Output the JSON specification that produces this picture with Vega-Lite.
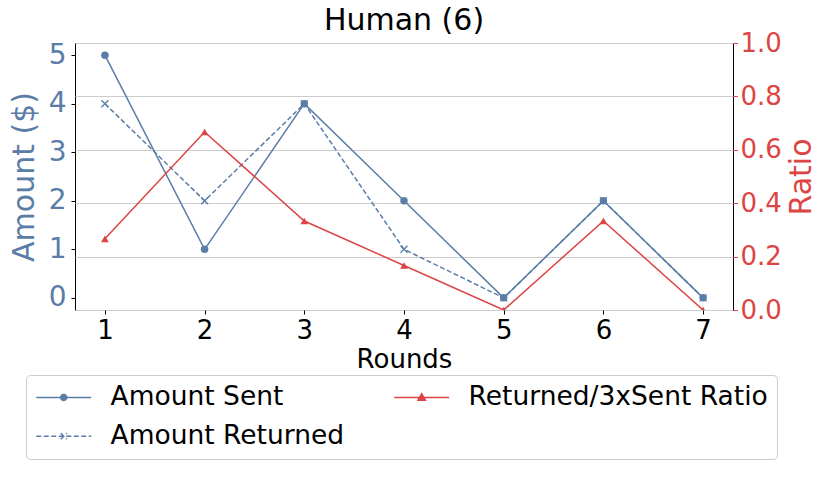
{
  "$schema": "https://vega.github.io/schema/vega-lite/v6.json",
  "width": 658,
  "height": 267,
  "autosize": {"type": "none"},
  "padding": {"left": 75, "top": 43, "right": 97, "bottom": 188},
  "background": "white",
  "title": {"text": "Human (6)", "font": "DejaVu Sans", "fontSize": 30, "fontWeight": "normal", "color": "black", "offset": -6},
  "config": {
    "view": {"stroke": "black", "strokeWidth": 1},
    "font": "DejaVu Sans",
    "axis": {"domain": false, "grid": false, "labelFont": "DejaVu Sans", "titleFont": "DejaVu Sans", "titleFontWeight": "normal", "tickColor": "black", "tickWidth": 1}
  },
  "data": {
    "values": [
      {"round": 1, "series": "Amount Sent", "value": 5},
      {"round": 2, "series": "Amount Sent", "value": 1},
      {"round": 3, "series": "Amount Sent", "value": 4},
      {"round": 4, "series": "Amount Sent", "value": 2},
      {"round": 5, "series": "Amount Sent", "value": 0},
      {"round": 6, "series": "Amount Sent", "value": 2},
      {"round": 7, "series": "Amount Sent", "value": 0},
      {"round": 1, "series": "Amount Returned", "value": 4},
      {"round": 2, "series": "Amount Returned", "value": 2},
      {"round": 3, "series": "Amount Returned", "value": 4},
      {"round": 4, "series": "Amount Returned", "value": 1},
      {"round": 5, "series": "Amount Returned", "value": 0},
      {"round": 6, "series": "Amount Returned", "value": 2},
      {"round": 7, "series": "Amount Returned", "value": 0},
      {"round": 1, "series": "Returned/3xSent Ratio", "value": 0.2667},
      {"round": 2, "series": "Returned/3xSent Ratio", "value": 0.6667},
      {"round": 3, "series": "Returned/3xSent Ratio", "value": 0.3333},
      {"round": 4, "series": "Returned/3xSent Ratio", "value": 0.1667},
      {"round": 5, "series": "Returned/3xSent Ratio", "value": 0},
      {"round": 6, "series": "Returned/3xSent Ratio", "value": 0.3333},
      {"round": 7, "series": "Returned/3xSent Ratio", "value": 0}
    ]
  },
  "encoding": {
    "x": {
      "field": "round", "type": "quantitative",
      "scale": {"domain": [0.7, 7.3], "nice": false, "zero": false},
      "axis": {"values": [1, 2, 3, 4, 5, 6, 7], "format": "d", "title": "Rounds", "labelFontSize": 26, "titleFontSize": 26, "labelColor": "black", "titleColor": "black", "tickSize": 4, "labelPadding": 3, "titlePadding": 3}
    }
  },
  "layer": [
    {
      "layer": [
        {
          "transform": [{"filter": {"field": "series", "equal": "Amount Sent"}}],
          "mark": {"type": "line", "color": "#5a7da7", "strokeWidth": 1.5},
          "encoding": {
            "y": {
              "field": "value", "type": "quantitative",
              "scale": {"domain": [-0.25, 5.25], "nice": false, "zero": false},
              "axis": {"orient": "left", "values": [0, 1, 2, 3, 4, 5], "format": "d", "title": "Amount ($)", "labelFontSize": 28, "labelColor": "#5a7da7", "titleFontSize": 30, "titleColor": "#5a7da7", "tickSize": 4, "labelPadding": 5, "titlePadding": 9}
            }
          }
        },
        {
          "transform": [{"filter": {"field": "series", "equal": "Amount Returned"}}],
          "mark": {"type": "line", "color": "#5a7da7", "strokeWidth": 1.5, "strokeDash": [5, 2.5]},
          "encoding": {"y": {"field": "value", "type": "quantitative"}}
        },
        {
          "transform": [{"filter": {"field": "series", "equal": "Amount Sent"}}],
          "mark": {"type": "point", "shape": "circle", "filled": true, "size": 56, "color": "#5a7da7", "opacity": 1},
          "encoding": {"y": {"field": "value", "type": "quantitative"}}
        },
        {
          "transform": [{"filter": {"field": "series", "equal": "Amount Returned"}}],
          "mark": {"type": "point", "shape": "M-1,-1L1,1M-1,1L1,-1", "filled": false, "size": 49, "color": "#5a7da7", "strokeWidth": 1.3, "opacity": 1},
          "encoding": {"y": {"field": "value", "type": "quantitative"}}
        },
        {
          "mark": {"type": "point", "opacity": 0},
          "encoding": {
            "shape": {
              "field": "series", "type": "nominal",
              "scale": {
                "domain": ["Amount Sent", "Amount Returned", "Returned/3xSent Ratio"],
                "range": [
                  "M-1,0H3.58M1.54,0A0.25,0.25,0,1,1,1.04,0A0.25,0.25,0,1,1,1.54,0Z",
                  "M-1,0H3.58M1.04,-0.25L1.54,0.25M1.04,0.25L1.54,-0.25",
                  "M-1,0H3.58M1.29,-0.3L1.6,0.24L0.98,0.24Z"
                ]
              },
              "legend": {
                "orient": "none", "legendX": -49, "legendY": 332, "columns": 2, "columnPadding": 46, "rowPadding": 12,
                "title": null, "labelFontSize": 26.5, "labelFont": "DejaVu Sans", "labelColor": "black", "labelLimit": 400,
                "symbolSize": 576, "symbolStrokeWidth": 1.5, "labelOffset": 49, "padding": 9,
                "fillColor": "white", "strokeColor": "#cccccc", "cornerRadius": 4,
                "encoding": {
                  "symbols": {
                    "opacity": {"value": 1},
                    "strokeWidth": {"value": 1.5},
                    "stroke": {"value": {"expr": "datum.value === 'Returned/3xSent Ratio' ? '#dd4444' : '#5a7da7'"}},
                    "fill": {"value": {"expr": "datum.value === 'Returned/3xSent Ratio' ? '#dd4444' : '#5a7da7'"}},
                    "fillOpacity": {"value": 1},
                    "strokeOpacity": {"value": 1},
                    "strokeDash": {"value": {"expr": "datum.value === 'Amount Returned' ? [5, 2.5] : [1, 0]"}}
                  }
                }
              }
            }
          }
        }
      ]
    },
    {
      "layer": [
        {
          "transform": [{"filter": {"field": "series", "equal": "Returned/3xSent Ratio"}}],
          "mark": {"type": "line", "color": "#dd4444", "strokeWidth": 1.5, "clip": true},
          "encoding": {
            "y": {
              "field": "value", "type": "quantitative",
              "scale": {"domain": [0, 1], "nice": false, "zero": false},
              "axis": {"orient": "right", "values": [0, 0.2, 0.4, 0.6, 0.8, 1.0], "format": ".1f", "title": "Ratio", "labelFontSize": 26, "labelColor": "#dd4444", "titleFontSize": 30, "titleColor": "#dd4444", "tickColor": "#dd4444", "tickSize": 4.5, "labelPadding": 2.5, "titlePadding": 5, "titleAngle": 270, "titleBaseline": "top", "grid": true, "gridColor": "#cccccc", "gridWidth": 1}
            }
          }
        },
        {
          "transform": [{"filter": {"field": "series", "equal": "Returned/3xSent Ratio"}}],
          "mark": {"type": "point", "shape": "triangle-up", "filled": true, "size": 60, "color": "#dd4444", "opacity": 1, "clip": true},
          "encoding": {"y": {"field": "value", "type": "quantitative"}}
        }
      ]
    }
  ],
  "resolve": {"scale": {"y": "independent"}}
}
